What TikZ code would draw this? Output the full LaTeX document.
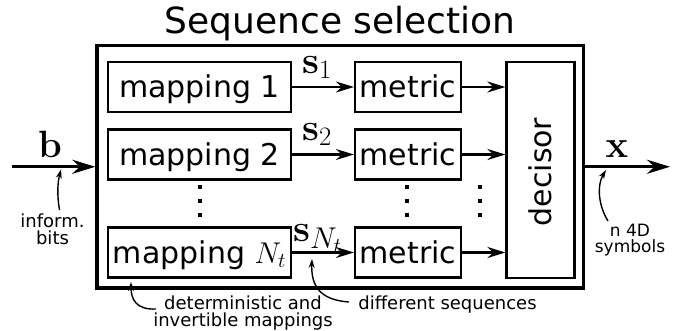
\RequirePackage{fix-cm}
\documentclass[tikz,border=0pt]{standalone}
\usepackage[no-math]{fontspec}
\setmainfont{DejaVu Sans}
\usetikzlibrary{arrows.meta}
\begin{document}
\begin{tikzpicture}[x=1pt,y=-1pt,
  blk/.style={draw, line width=2.2pt, inner sep=0pt, text height=24pt, text depth=3pt,
              minimum height=50pt, font=\fontsize{30}{36}\selectfont},
  mapbox/.style={blk, minimum width=183pt},
  metbox/.style={blk, minimum width=106pt},
  flow/.style={line width=2.2pt, -{Stealth[length=18pt,width=11pt]}},
  io/.style={line width=3pt, -{Stealth[length=23pt,width=14pt]}},
  note/.style={font=\fontsize{18}{16.5}\selectfont, align=center, inner sep=0pt},
  annot/.style={line width=1.4pt, -{Stealth[length=9pt,width=6pt]}},
  sym/.style={font=\fontsize{38}{44}\selectfont, inner sep=0pt}
]
\useasboundingbox (0,0) rectangle (682,330);

% outer frame and title
\node[draw, line width=3.4pt, minimum width=486.5pt, minimum height=242.5pt, inner sep=0pt]
  (outer) at (340.25,166.75) {};
\node[font=\fontsize{36}{43}\selectfont, anchor=base, inner sep=0pt] (title) at (340,33) {Sequence selection};

% mapping blocks
\node[mapbox] (map1) at (199.5,87) {mapping 1};
\node[mapbox] (map2) at (199.5,154.5) {mapping 2};
\node[mapbox] (map3) at (199.5,252.5) {mapping $N_t$};

% metric blocks
\node[metbox] (met1) at (408,87) {metric};
\node[metbox] (met2) at (408,154.5) {metric};
\node[metbox] (met3) at (408,252.5) {metric};

% decisor
\node[draw, line width=2.2pt, minimum width=68pt, minimum height=216pt, inner sep=0pt] (dec) at (540.5,170) {};
\node[rotate=90, inner sep=0pt, text height=24pt, text depth=3pt, font=\fontsize{30}{36}\selectfont]
  (dect) at (541,172) {decisor};

% vertical dots
\foreach \x in {200,407,480}{
  \foreach \y in {187,201,215}{
    \fill (\x-2.3,\y-2.3) rectangle (\x+2.3,\y+2.3);
  }
}

% flows
\draw[flow] (map1) -- (met1);
\draw[flow] (map2) -- (met2);
\draw[flow] (map3) -- (met3);
\draw[flow] (met1.east) -- (met1.east -| dec.west);
\draw[flow] (met2.east) -- (met2.east -| dec.west);
\draw[flow] (met3.east) -- (met3.east -| dec.west);

% sequence labels
\node[sym, anchor=base west] (s1) at (302,73) {$\mathbf{s}_1$};
\node[sym, anchor=base west] (s2) at (302,140) {$\mathbf{s}_2$};
\node[sym, anchor=base west] (sN) at (293,241)
  {$\mathbf{s}_{\mbox{\fontsize{30}{30}\selectfont$N_t$}}$};

% input / output
\coordinate (bin) at (12,166.75);
\coordinate (xout) at (670,166.75);
\draw[io] (bin) -- (outer.west);
\draw[io] (outer.east) -- (xout);
\node[sym, anchor=base] (blab) at (50,157) {$\mathbf{b}$};
\node[sym, anchor=base] (xlab) at (617,157) {$\mathbf{x}$};

% annotations
\node[note, font=\fontsize{18}{16.5}\selectfont, anchor=north] (ib) at (52.5,214) {inform.\\bits};
\coordinate (ibtip) at (61,169.5);
\draw[annot] ([xshift=7pt,yshift=4pt]ib.north) .. controls (57,195) and (57.5,183) .. (ibtip);

\node[note, font=\fontsize{17}{15.5}\selectfont, anchor=north] (nd) at (630,224) {n 4D\\symbols};
\coordinate (ndtip) at (606,170);
\draw[annot] ([xshift=-22pt,yshift=3pt]nd.north) .. controls (598,205) and (597,185) .. (ndtip);

\node[note, anchor=north] (det) at (243,296) {deterministic and\\invertible mappings};
\coordinate (dettip) at (131,282);
\draw[annot] ([xshift=-87pt,yshift=-13pt]det.north) .. controls (136,310) and (131,299) .. (dettip);

\node[note, anchor=north] (dif) at (447.5,296) {different sequences};
\coordinate (diftip) at (312,259);
\draw[annot] ([xshift=-98.5pt,yshift=-6pt]dif.north) .. controls (320,300) and (311,286) .. (diftip);
\end{tikzpicture}
\end{document}
